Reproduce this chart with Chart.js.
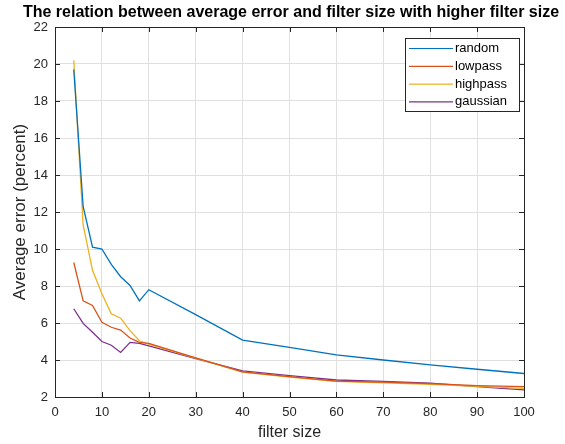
<!DOCTYPE html>
<html>
<head>
<meta charset="utf-8">
<script src="https://cdn.jsdelivr.net/npm/chart.js@4.4.1/dist/chart.umd.min.js"></script>
<style>
  body { margin: 0; background: #fff; }
  #wrap { width: 565px; height: 444px; }
</style>
</head>
<body>
<div id="wrap"><canvas id="graph"></canvas></div>
<script>
// filter sizes on the x axis
const filterSize = [4, 6, 8, 10, 12, 14, 16, 18, 20, 30, 40, 50, 60, 70, 80, 90, 100];

// average error (percent) per filter type
const randomErr   = [19.7, 12.3, 10.1, 10.0, 9.17, 8.5, 8.03, 7.2, 7.8, 6.45, 5.08, 4.68, 4.28, 4.0, 3.74, 3.5, 3.27];
const lowpassErr  = [9.27, 7.2, 6.95, 6.04, 5.77, 5.62, 5.19, 4.95, 4.9, 4.12, 3.36, 3.1, 2.86, 2.8, 2.72, 2.62, 2.56];
const highpassErr = [20.2, 11.3, 8.85, 7.58, 6.5, 6.26, 5.59, 5.04, 4.86, 4.1, 3.34, 3.08, 2.84, 2.76, 2.68, 2.57, 2.47];
const gaussianErr = [6.77, 5.98, 5.5, 5.0, 4.8, 4.41, 4.95, 4.9, 4.77, 4.08, 3.41, 3.16, 2.92, 2.84, 2.75, 2.56, 2.38];

const seriesNames  = ["random", "lowpass", "highpass", "gaussian"];
const seriesColors = ["#0072BD", "#D95319", "#EDB120", "#7E2F8E"];

const xTicks = [0, 10, 20, 30, 40, 50, 60, 70, 80, 90, 100];
const yTicks = [2, 4, 6, 8, 10, 12, 14, 16, 18, 20, 22];

const chartTitle = "The relation between average error and filter size with higher filter size";

const axisColor = "#262626";
const fontFam = "'Liberation Sans', Arial, sans-serif";

// title, box round the axes, inward ticks and the legend, MATLAB style
const matlabBox = {
  id: "matlabBox",
  afterDraw(chart) {
    const ctx = chart.ctx;
    const a = chart.chartArea;
    const xs = chart.scales.x, ys = chart.scales.y;
    ctx.save();

    ctx.fillStyle = "#000";
    ctx.font = "bold 16px " + fontFam;
    ctx.textAlign = "center";
    ctx.textBaseline = "middle";
    ctx.fillText(chartTitle, 291, 13);

    ctx.strokeStyle = axisColor;
    ctx.lineWidth = 1;
    ctx.strokeRect(Math.round(a.left) + 0.5, Math.round(a.top) + 0.5,
                   Math.round(a.right - a.left), Math.round(a.bottom - a.top));
    const tl = 5;
    ctx.beginPath();
    xTicks.forEach(v => {
      const px = Math.round(xs.getPixelForValue(v)) + 0.5;
      ctx.moveTo(px, a.bottom); ctx.lineTo(px, a.bottom - tl);
      ctx.moveTo(px, a.top); ctx.lineTo(px, a.top + tl);
    });
    yTicks.forEach(v => {
      const py = Math.round(ys.getPixelForValue(v)) + 0.5;
      ctx.moveTo(a.left, py); ctx.lineTo(a.left + tl, py);
      ctx.moveTo(a.right, py); ctx.lineTo(a.right - tl, py);
    });
    ctx.stroke();

    // legend
    const lx = 405.5, ly = 38.5, lw = 114, lh = 73;
    ctx.fillStyle = "#fff";
    ctx.fillRect(lx, ly, lw, lh);
    ctx.strokeStyle = axisColor;
    ctx.strokeRect(lx, ly, lw, lh);
    ctx.font = "13px " + fontFam;
    ctx.textAlign = "left";
    ctx.textBaseline = "middle";
    chart.data.datasets.forEach((ds, i) => {
      const cy = 48.5 + i * 17.8;
      ctx.strokeStyle = ds.borderColor;
      ctx.lineWidth = 1.2;
      ctx.beginPath();
      ctx.moveTo(409, cy); ctx.lineTo(453, cy);
      ctx.stroke();
      ctx.fillStyle = "#000";
      ctx.fillText(ds.label, 455, cy);
    });
    ctx.restore();
  }
};

const seriesData = [randomErr, lowpassErr, highpassErr, gaussianErr];

new Chart(document.getElementById("graph"), {
  type: "line",
  data: {
    datasets: seriesData.map((vals, i) => ({
      label: seriesNames[i],
      data: filterSize.map((x, j) => ({ x: x, y: vals[j] })),
      borderColor: seriesColors[i],
      backgroundColor: seriesColors[i],
      borderWidth: 1.3,
      pointRadius: 0,
      tension: 0,
      fill: false,
    })),
  },
  options: {
    responsive: true,
    maintainAspectRatio: false,
    animation: false,
    layout: { padding: { top: 27, right: 41, bottom: 0, left: 0 } },
    scales: {
      x: {
        type: "linear",
        min: 0, max: 100,
        afterBuildTicks: (s) => { s.ticks = xTicks.map(v => ({ value: v })); },
        afterFit: (s) => { s.height = 47; },
        grid: { color: "#e0e0e0", drawTicks: false },
        border: { display: false },
        ticks: { color: axisColor, padding: 8, maxRotation: 0, autoSkip: false,
                 font: { family: fontFam, size: 13 } },
        title: { display: true, text: "filter size", color: axisColor,
                 padding: { top: 0, bottom: 1.4 },
                 font: { family: fontFam, size: 16 } },
      },
      y: {
        type: "linear",
        min: 2, max: 22,
        afterBuildTicks: (s) => { s.ticks = yTicks.map(v => ({ value: v })); },
        afterFit: (s) => { s.width = 55; },
        grid: { color: "#e0e0e0", drawTicks: false },
        border: { display: false },
        ticks: { color: axisColor, padding: 7, autoSkip: false,
                 font: { family: fontFam, size: 13 } },
        title: { display: true, text: "Average error (percent)", color: axisColor,
                 padding: { top: 10.3, bottom: 0 },
                 font: { family: fontFam, size: 17 } },
      },
    },
    plugins: {
      legend: { display: false },
      tooltip: { enabled: false },
      title: { display: false },
    },
  },
  plugins: [matlabBox],
});
</script>
</body>
</html>
